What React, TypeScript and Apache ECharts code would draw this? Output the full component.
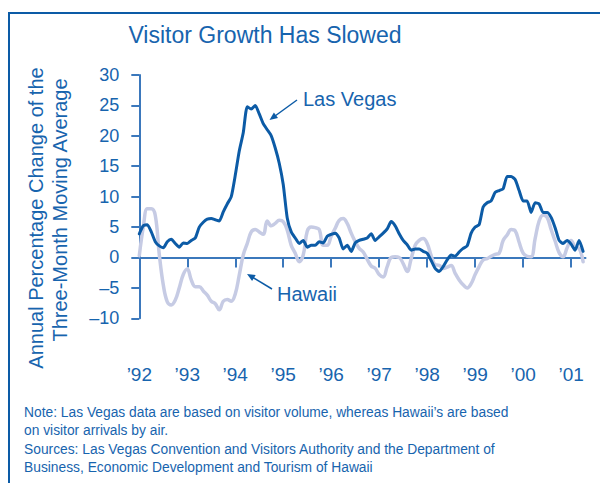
import React, { useEffect, useRef } from "react";
import * as echarts from "echarts";

// Monthly values, Jan 1992 onward (annual % change, 3-month moving average)
const lasVegas = [
  3.9, 5.2, 5.4, 4.2, 2.6, 1.9, 1.6, 2.6, 3.0, 2.3, 1.7, 2.4,
  2.3, 2.8, 3.2, 5.0, 5.8, 6.3, 6.4, 6.2, 6.0, 7.5, 8.8, 10.0,
  13.5, 17.5, 20.5, 24.8, 24.4, 25.0, 23.6, 22.0, 21.0, 20.0, 18.0, 15.5,
  12.0, 6.5, 4.2, 3.2, 2.3, 2.8, 1.7, 2.0, 2.0, 2.6, 2.4, 3.5,
  3.8, 4.0, 3.2, 1.4, 2.0, 1.0, 2.4, 2.8, 3.0, 3.2, 3.9, 2.8,
  3.4, 4.0, 4.7, 5.9, 5.2, 3.9, 2.8, 2.1, 1.2, 1.4, 1.4, 1.0,
  0.7, -0.5, -1.8, -2.3, -1.5, -0.4, 0.4, 0.2, 0.9, 1.5, 1.9, 4.0,
  5.0, 5.4, 8.3, 9.0, 9.3, 10.7, 11.0, 11.3, 13.3, 13.3, 12.8, 11.0,
  9.3, 9.3, 7.4, 9.0, 8.8, 7.4, 7.4, 6.6, 4.9, 2.8, 2.3, 2.8,
  2.2, 1.2, 2.8, 1.0,
];
const hawaii = [
  0.3, 5.0, 8.0, 8.0, 6.9, 0.5, -4.5, -7.3, -7.8, -7.0, -5.0, -2.8,
  -1.9, -3.7, -4.8, -4.8, -5.5, -6.2, -7.2, -7.6, -8.6, -7.2, -6.9, -7.2,
  -6.0, -2.9, 0.4, 2.3, 4.2, 4.6, 4.2, 3.8, 6.0, 5.2, 5.6, 6.1,
  5.9, 4.5, 2.0, 0.7, -0.7, 0.4, 4.3, 5.0, 4.9, 4.6, 2.0, 2.0,
  3.5, 4.8, 6.1, 6.4, 5.6, 4.0, 2.6, 1.5, 0.9, -0.3, -1.4, -1.8,
  -2.8, -3.2, -1.5, 0.0, 0.1, 0.0, -1.0, -2.3, -0.2, 2.0, 2.8, 3.1,
  2.3, 0.3, -1.2, -1.3, -1.8, -1.6, -1.3, -2.6, -3.7, -4.5, -5.0, -4.3,
  -2.8, -1.5, -0.4, -0.2, 0.2, 0.5, 0.7, 2.8, 3.7, 4.6, 4.4, 2.5,
  0.7, 0.2, 0.1, 3.1, 6.0, 7.0, 6.6, 4.6, 2.7, 0.8, 0.1, 1.6,
  2.8, 1.7, 1.5, -0.7,
];
const yearTicks = [1992, 1993, 1994, 1995, 1996, 1997, 1998, 1999, 2000, 2001];
const yTicks = [-10, -5, 0, 5, 10, 15, 20, 25, 30];

const TEXT = "#1764ae";
const LV_COLOR = "#0c5ba6";
const HI_COLOR = "#c6cbe4";
const AXIS = "#3b78bc";
const FONT = "'Liberation Sans', Arial, Helvetica, sans-serif";

const toPoints = (arr: number[]) => arr.map((v, i) => [1992 + i / 12, v]);

export default function App() {
  const ref = useRef<HTMLDivElement>(null);
  useEffect(() => {
    document.body.style.margin = "0";
    if (!ref.current) return;
    const chart = echarts.init(ref.current, null, { renderer: "svg" });
    const noteLines = [
      "Note: Las Vegas data are based on visitor volume, whereas Hawaii\u2019s are based",
      "on visitor arrivals by air.",
      "Sources: Las Vegas Convention and Visitors Authority and the Department of",
      "Business, Economic Development and Tourism of Hawaii",
    ];
    const noteY = [412, 430.5, 449, 467.5];
    chart.setOption({
      animation: false,
      backgroundColor: "#ffffff",
      textStyle: { fontFamily: FONT },
      grid: { left: 139.3, right: 14.5, top: 75, bottom: 164.7 },
      xAxis: {
        type: "value",
        min: 1992,
        max: 2001.3,
        interval: 1,
        axisLine: { show: true, onZero: true, lineStyle: { color: AXIS, width: 2 } },
        axisTick: { show: true, length: 10, customValues: yearTicks, lineStyle: { color: AXIS, width: 2 } },
        axisLabel: {
          customValues: yearTicks,
          margin: 47,
          color: TEXT,
          fontSize: 19,
          fontFamily: FONT,
          formatter: (v: number) => "\u2019" + String(Math.round(v)).slice(2),
        },
        splitLine: { show: false },
      },
      yAxis: {
        type: "value",
        min: -10,
        max: 30,
        interval: 5,
        axisLine: { show: true, lineStyle: { color: AXIS, width: 2 } },
        axisTick: { show: true, length: 8, customValues: yTicks, lineStyle: { color: AXIS, width: 2 } },
        axisLabel: {
          customValues: yTicks,
          margin: 20,
          color: TEXT,
          fontSize: 18,
          fontFamily: FONT,
          formatter: (v: number) => (v < 0 ? "\u2013" + Math.abs(v) : String(v)),
        },
        splitLine: { show: false },
      },
      series: [
        {
          name: "Hawaii",
          type: "line",
          data: toPoints(hawaii),
          symbol: "none",
          smooth: 0.4,
          lineStyle: { color: HI_COLOR, width: 3.5, cap: "round", join: "round" },
          z: 2,
        },
        {
          name: "Las Vegas",
          type: "line",
          data: toPoints(lasVegas),
          symbol: "none",
          smooth: 0.2,
          lineStyle: { color: LV_COLOR, width: 3, cap: "round", join: "round" },
          z: 3,
        },
      ],
      graphic: [
        // frame
        { type: "line", shape: { x1: 9, y1: 13, x2: 600, y2: 13 }, style: { stroke: LV_COLOR, lineWidth: 2 } },
        { type: "line", shape: { x1: 9, y1: 12, x2: 9, y2: 483 }, style: { stroke: LV_COLOR, lineWidth: 2 } },
        {
          type: "text",
          x: 265,
          y: 35,
          style: { text: "Visitor Growth Has Slowed", fill: TEXT, font: `23px ${FONT}`, textAlign: "center", textVerticalAlign: "middle" },
        },
        {
          type: "text",
          x: 36,
          y: 218,
          rotation: Math.PI / 2,
          style: { text: "Annual Percentage Change of the", fill: TEXT, font: `20px ${FONT}`, textAlign: "center", textVerticalAlign: "middle" },
        },
        {
          type: "text",
          x: 60,
          y: 210,
          rotation: Math.PI / 2,
          style: { text: "Three-Month Moving Average", fill: TEXT, font: `20px ${FONT}`, textAlign: "center", textVerticalAlign: "middle" },
        },
        // Las Vegas label + arrow
        {
          type: "text",
          x: 303,
          y: 99,
          style: { text: "Las Vegas", fill: TEXT, font: `20px ${FONT}`, textAlign: "left", textVerticalAlign: "middle" },
        },
        { type: "line", shape: { x1: 297, y1: 100, x2: 275, y2: 116 }, style: { stroke: LV_COLOR, lineWidth: 1.5 } },
        { type: "polygon", shape: { points: [[269.5, 120], [278.0, 118.1], [273.9, 112.5]] }, style: { fill: LV_COLOR } },
        // Hawaii label + arrow
        {
          type: "text",
          x: 277,
          y: 294,
          style: { text: "Hawaii", fill: TEXT, font: `20px ${FONT}`, textAlign: "left", textVerticalAlign: "middle" },
        },
        { type: "line", shape: { x1: 272, y1: 289, x2: 253, y2: 277.5 }, style: { stroke: LV_COLOR, lineWidth: 1.5 } },
        { type: "polygon", shape: { points: [[247, 274], [255.7, 275.1], [252.1, 281.1]] }, style: { fill: LV_COLOR } },
        ...noteLines.map((t, i) => ({
          type: "text",
          x: 24,
          y: noteY[i],
          style: { text: t, fill: TEXT, font: `13.8px ${FONT}`, textAlign: "left", textVerticalAlign: "middle" },
        })),
      ],
    });
    return () => chart.dispose();
  }, []);
  return <div ref={ref} style={{ width: 600, height: 483 }} />;
}
